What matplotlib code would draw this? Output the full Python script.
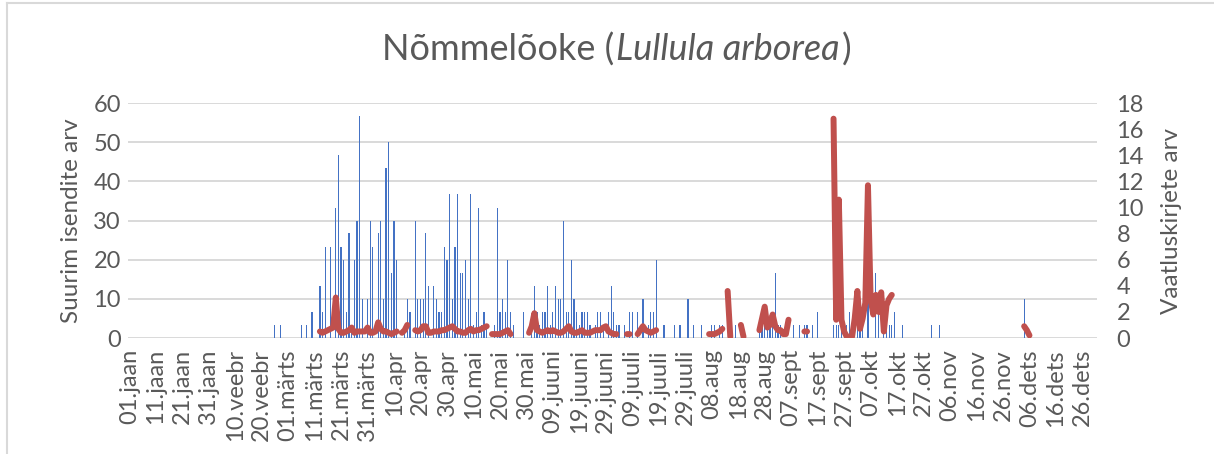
import numpy as np
from matplotlib import pyplot as plt
from matplotlib.lines import Line2D

plt.rcParams['font.family'] = ['Lato', 'DejaVu Sans']

# x-axis: days of a leap year, labels every 10th day
n_days = 366
tick_labels = ['01.jaan', '11.jaan', '21.jaan', '31.jaan', '10.veebr', '20.veebr',
               '01.märts', '11.märts', '21.märts', '31.märts', '10.apr', '20.apr',
               '30.apr', '10.mai', '20.mai', '30.mai', '09.juuni', '19.juuni',
               '29.juuni', '09.juuli', '19.juuli', '29.juuli', '08.aug', '18.aug',
               '28.aug', '07.sept', '17.sept', '27.sept', '07.okt', '17.okt',
               '27.okt', '06.nov', '16.nov', '26.nov', '06.dets', '16.dets', '26.dets']

# bars: largest count per day (left axis)
bar_days = [55, 57, 65, 67, 69, 72, 73, 74, 76, 78, 79, 80, 81, 82, 83, 84, 85, 86, 87, 88,
            90, 91, 92, 94, 95, 96, 97, 98, 99, 100, 101, 104, 105, 106, 108, 109, 110, 111,
            112, 113, 115, 116, 117, 118, 119, 120, 121, 122, 123, 124, 125, 126, 127, 128,
            129, 130, 131, 132, 133, 134, 135, 138, 139, 140, 141, 142, 143, 144, 145, 149,
            152, 153, 154, 155, 156, 157, 158, 159, 160, 161, 162, 163, 164, 165, 166, 167,
            168, 169, 170, 171, 172, 173, 174, 176, 177, 178, 179, 181, 182, 183, 184, 185,
            187, 189, 190, 192, 194, 196, 197, 198, 199, 202, 206, 208, 211, 213, 216, 220,
            221, 223, 224, 229, 238, 239, 240, 241, 242, 243, 244, 245, 246, 251, 253, 255,
            256, 258, 260, 266, 267, 268, 269, 270, 271, 272, 275, 276, 277, 279, 282, 283,
            285, 286, 287, 288, 289, 292, 303, 306, 338]
bar_vals = [3.3, 3.3, 3.3, 3.3, 6.7, 13.3, 6.7, 23.3, 23.3, 33.3, 46.7, 23.3, 20, 6.7, 26.7,
            3.3, 20, 30, 56.7, 10, 10, 30, 23.3, 26.7, 30, 10, 43.3, 50, 16.7, 30, 20, 3.3,
            10, 6.7, 30, 10, 10, 10, 26.7, 13.3, 13.3, 10, 6.7, 6.7, 23.3, 20, 36.7, 10, 23.3,
            36.7, 16.7, 16.7, 20, 10, 36.7, 3.3, 6.7, 33.3, 3.3, 6.7, 3.3, 3.3, 33.3, 6.7, 10,
            6.7, 20, 6.7, 3.3, 6.7, 3.3, 13.3, 6.7, 3.3, 6.7, 6.7, 13.3, 3.3, 6.7, 13.3, 10,
            10, 30, 6.7, 6.7, 20, 10, 6.7, 3.3, 6.7, 6.7, 6.7, 3.3, 3.3, 6.7, 6.7, 3.3, 6.7,
            13.3, 6.7, 3.3, 3.3, 3.3, 6.7, 6.7, 6.7, 10, 3.3, 6.7, 6.7, 20, 3.3, 3.3, 3.3, 10,
            3.3, 3.3, 3.3, 3.3, 3.3, 3.3, 3.3, 3.3, 3.3, 3.3, 3.3, 3.3, 3.3, 16.7, 3.3, 3.3,
            3.3, 3.3, 3.3, 3.3, 3.3, 6.7, 3.3, 3.3, 3.3, 3.3, 3.3, 3.3, 6.7, 3.3, 3.3, 6.7,
            10, 16.7, 6.7, 3.3, 6.7, 3.3, 3.3, 6.7, 3.3, 3.3, 3.3, 10]

# line: number of records per day (right axis), stretches with data
seg_starts = [72, 103, 108, 137, 151, 188, 192, 219, 226, 231, 238, 255, 266, 338]
seg_vals = [
    [0.5, 0.4, 0.5, 0.6, 0.7, 0.8, 3.1, 0.7, 0.4, 0.4, 0.5, 0.6, 0.8, 0.4, 0.5, 0.5,
     0.5, 0.5, 0.8, 0.4, 0.4, 0.5, 1.2, 0.7, 0.5, 0.5, 0.4, 0.3, 0.4, 0.5],
    [0.4, 0.6, 1.0],
    [0.6, 0.5, 0.6, 0.9, 0.9, 0.4, 0.4, 0.5, 0.5, 0.5, 0.6, 0.6, 0.7, 0.8, 0.9, 0.7,
     0.5, 0.5, 0.4, 0.4, 0.6, 0.7, 0.5, 0.6, 0.6, 0.7, 0.8, 0.9],
    [0.3, 0.3, 0.3, 0.3, 0.4, 0.5, 0.6, 0.3],
    [0.4, 0.9, 1.9, 0.6, 0.5, 0.4, 0.5, 0.6, 0.5, 0.6, 0.5, 0.4, 0.4, 0.5, 0.7, 0.9,
     0.5, 0.4, 0.4, 0.5, 0.6, 0.4, 0.4, 0.4, 0.5, 0.6, 0.6, 0.6, 0.8, 0.9, 0.5, 0.4,
     0.3, 0.3],
    [0.3, 0.3],
    [0.3, 0.6, 0.9, 0.6, 0.5, 0.4, 0.5, 0.6],
    [0.3, 0.3, 0.3, 0.4, 0.5, 0.7],
    [3.6, 0.1],
    [1.0, 0.1],
    [0.6, 1.5, 2.4, 0.8, 1.0, 1.8, 0.9, 0.6, 0.6, 0.3, 0.3, 1.4],
    [0.5, 0.5],
    [16.8, 1.4, 10.6, 1.4, 0.5, 0.1, 0.1, 0.1, 1.5, 3.6, 0.7, 1.5, 2.7, 11.7, 3.0, 1.8,
     3.3, 2.0, 3.5, 0.5, 2.5, 3.0, 3.3],
    [0.9, 0.6, 0.2],
]

line_vals = np.full(n_days, np.nan)
for s, v in zip(seg_starts, seg_vals):
    line_vals[s:s + len(v)] = v

grey = '#595959'
grid = '#D9D9D9'

fig = plt.figure(figsize=(12.14, 4.54), dpi=100)
ax = fig.add_axes([0.1054, 0.2555, 0.7982, 0.5176])
ax2 = ax.twinx()

ax.bar(bar_days, bar_vals, width=0.45, color='#4472C4', linewidth=0, zorder=2)
ax2.plot(np.arange(n_days), line_vals, color='#C0504D', lw=4.3,
         solid_capstyle='round', solid_joinstyle='round', zorder=3)

ax.set_xlim(-0.5, n_days - 0.5)
ax.set_ylim(0, 60)
ax2.set_ylim(0, 18)
ax.set_yticks(np.arange(0, 61, 10))
ax2.set_yticks(np.arange(0, 19, 2))
ax.set_xticks(np.arange(0, 361, 10))
ax.set_xticklabels(tick_labels, rotation=90)

ax.grid(axis='y', color=grid, lw=1.4, zorder=0)
ax.set_axisbelow(True)
for a in (ax, ax2):
    for sp in a.spines.values():
        sp.set_visible(False)
    a.tick_params(length=0, colors=grey, labelsize=17)
ax.tick_params(axis='y', pad=5)
ax2.tick_params(axis='y', pad=14)
ax.tick_params(axis='x', pad=8)

ax.set_ylabel('Suurim isendite arv', color=grey, fontsize=17.5, labelpad=8)
ax2.set_ylabel('Vaatluskirjete arv', color=grey, fontsize=17.5, rotation=90, labelpad=12)

# title: plain name + italic latin name, centred as one line
title_parts = ['Nõmmelõoke (', 'Lullula arborea', ')']
title_styles = ['normal', 'italic', 'normal']
texts = [fig.text(0, 0.890, t, fontsize=26, color=grey, va='center', style=st)
         for t, st in zip(title_parts, title_styles)]
fig.canvas.draw()
r = fig.canvas.get_renderer()
widths = [t.get_window_extent(r).width / fig.bbox.width for t in texts]
x0 = 0.506 - sum(widths) / 2
for t, w in zip(texts, widths):
    t.set_x(x0)
    x0 += w + 0.002

# chart border
fig.add_artist(Line2D([7 / 1214, 1], [1 - 2.5 / 454] * 2, color=grid, lw=1.5))
fig.add_artist(Line2D([7 / 1214] * 2, [0, 1 - 2.5 / 454], color=grid, lw=1.5))

fig.savefig('out.png', dpi=100)
